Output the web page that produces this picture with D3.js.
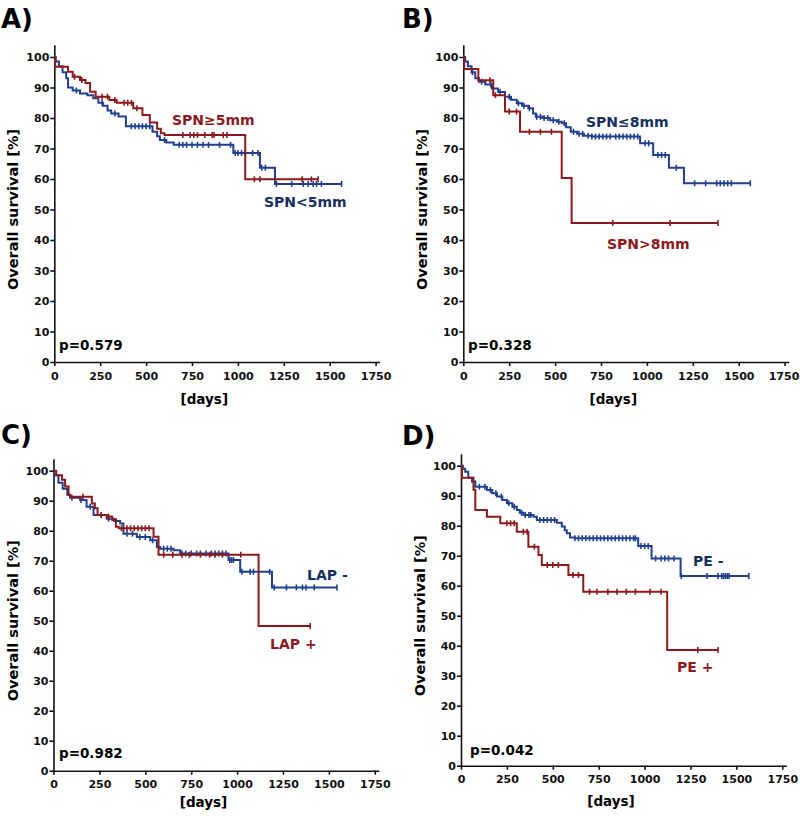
<!DOCTYPE html>
<html><head><meta charset="utf-8">
<script src="https://cdn.jsdelivr.net/npm/d3@7"></script>
<style>
body{margin:0;background:#fff}
svg text{font-family:"DejaVu Sans",sans-serif;font-weight:bold}
</style>
</head><body>
<svg id="chart" width="800" height="817"></svg>
<script>
// ---------- DATA ----------
const xTicks = [0, 250, 500, 750, 1000, 1250, 1500, 1750];
const yTicks = [0, 10, 20, 30, 40, 50, 60, 70, 80, 90, 100];
const panelLetters = ["A)", "B)", "C)", "D)"];
const pValues = ["p=0.579", "p=0.328", "p=0.982", "p=0.042"];
const redLabels = ["SPN\u22655mm", "SPN>8mm", "LAP +", "PE +"];
const blueLabels = ["SPN<5mm", "SPN\u22648mm", "LAP -", "PE -"];
const yAxisTitle = "Overall survival [%]";
const xAxisTitle = "[days]";

// Panel A
const aBlueSteps = [[0,100],[8,98.5],[25,97],[45,95],[65,93],[75,90],[100,89],[140,88],[180,87.5],[212,86.5],[240,85],[265,84],[290,82.5],[310,81.5],[350,80.5],[390,77.3],[535,75.5],[560,74],[575,72.8],[610,72],[650,71.2],[975,68.5],[1120,63.7],[1202,58.4]];
const aBlueEnd = 1565;
const aBlueCensor = [120,260,330,420,440,460,480,500,520,600,680,700,720,750,780,810,840,900,960,985,1000,1020,1040,1080,1110,1130,1150,1210,1293,1356,1383,1410,1428,1455,1565];
const aRedSteps = [[0,100],[5,96.8],[75,95.2],[100,93.5],[140,92.5],[170,91.5],[195,88.6],[225,87],[300,85.9],[340,85],[430,83.2],[480,81],[520,78.5],[560,76.5],[580,75],[600,74.4],[1040,59.9]];
const aRedEnd = 1437;
const aRedCensor = [110,150,260,290,330,380,400,420,450,700,740,760,780,820,860,870,920,940,1090,1120,1350,1400,1437];

// Panel B
const bBlueSteps = [[0,100],[10,98.5],[25,97],[45,95],[65,93],[85,91.9],[120,91],[155,89.7],[190,88.5],[227,87],[260,86],[291,84.8],[320,84],[354,83.2],[380,81.5],[395,80.4],[430,80],[473,79.3],[510,78.8],[536,78.3],[560,77],[585,75.5],[620,74.8],[657,74.2],[700,73.9],[963,71.7],[1034,67.9],[1120,63.7],[1202,58.6]];
const bBlueEnd = 1563;
const bBlueCensor = [50,100,150,200,250,300,330,360,400,420,440,460,490,520,550,600,630,650,680,700,720,740,760,780,800,830,850,870,890,910,930,950,990,1010,1060,1080,1100,1160,1260,1320,1380,1400,1420,1440,1460,1563];
const bRedSteps = [[0,100],[5,96.1],[82,92.4],[163,87.5],[227,82.1],[309,75.5],[536,60.3],[590,45.6]];
const bRedEnd = 1387;
const bRedCensor = [145,175,250,290,360,420,480,814,1126,1387];

// Panel C
const cBlueSteps = [[0,100],[5,98.5],[27,96],[50,94],[75,92],[91,91],[145,90.2],[180,88],[218,85.2],[290,84],[330,83.2],[363,82.4],[381,79],[454,77.9],[527,76.8],[563,74.6],[581,74],[654,73.5],[690,72.4],[953,70.2],[1017,66.3],[1190,61.1]];
const cBlueEnd = 1544;
const cBlueCensor = [100,150,200,260,300,340,400,430,470,500,540,600,620,640,700,720,750,780,800,830,860,880,900,920,940,960,970,980,1026,1071,1089,1177,1202,1269,1323,1356,1375,1420,1544];
const cRedSteps = [[0,100],[15,98.5],[46,97],[63,94.7],[82,92],[90,91.3],[209,89.1],[225,87.5],[240,85.2],[290,84.7],[320,83.6],[340,81.3],[355,80.8],[545,78],[572,72],[1117,48.2]];
const cRedEnd = 1398;
const cRedCensor = [160,260,300,370,400,420,440,460,480,500,520,600,650,700,740,800,850,880,920,1020,1398];

// Panel D
const dBlueSteps = [[0,100],[10,99],[23,98],[40,96],[60,94.7],[78,93],[141,91.9],[170,90.8],[196,89.7],[225,88.6],[250,87.5],[280,86.3],[304,85.2],[320,84.3],[340,83.6],[395,83],[413,81.9],[522,81],[549,79.7],[565,78.5],[576,77.5],[594,76.1],[620,75.8],[965,73.2],[1038,69.1],[1196,63.2]];
const dBlueEnd = 1568;
const dBlueCensor = [100,130,160,190,220,260,290,330,350,370,380,430,450,470,490,510,620,640,660,680,700,720,740,760,780,800,820,840,860,880,900,920,940,950,980,1000,1020,1060,1090,1110,1130,1160,1200,1340,1400,1420,1430,1440,1450,1460,1568];
const dRedSteps = [[0,100],[5,96],[68,92],[78,85.2],[141,83],[214,80.8],[304,78],[367,73],[422,70.2],[440,66.9],[585,63.6],[666,58],[1123,38.6]];
const dRedEnd = 1400;
const dRedCensor = [250,270,290,340,360,400,470,500,530,610,640,700,740,800,850,900,950,1030,1090,1290,1400];

const blueSeries = [
  {steps:aBlueSteps,end:aBlueEnd,censor:aBlueCensor},
  {steps:bBlueSteps,end:bBlueEnd,censor:bBlueCensor},
  {steps:cBlueSteps,end:cBlueEnd,censor:cBlueCensor},
  {steps:dBlueSteps,end:dBlueEnd,censor:dBlueCensor}];
const redSeries = [
  {steps:aRedSteps,end:aRedEnd,censor:aRedCensor},
  {steps:bRedSteps,end:bRedEnd,censor:bRedCensor},
  {steps:cRedSteps,end:cRedEnd,censor:cRedCensor},
  {steps:dRedSteps,end:dRedEnd,censor:dRedCensor}];

// ---------- LAYOUT ----------
const panels = [
  {ox:54.3, oy:362, top:57, letter:[1,27.5], pv:[59,350], red:[172,125], blue:[264,207], xt:42},
  {ox:463.3, oy:362, top:57, letter:[402,27.5], pv:[468,350], red:[607,248.5], blue:[586,127], xt:42},
  {ox:53.5, oy:770.7, top:470.7, letter:[1,444], pv:[59,758], red:[270,649], blue:[307,580], xt:36},
  {ox:461, oy:765.7, top:465.7, letter:[402,444.5], pv:[470,755], red:[677,671.7], blue:[693,565.7], xt:40}
];
const pxPerDay = 0.1836;
const RED = "#8c1a1c", BLUE = "#213f8e", BLUE_TXT = "#172f60", RED_TXT = "#8c1a1c";

const svg = d3.select("#chart");

function valueAt(steps, t){
  let v = steps[0][1];
  for (const s of steps){ if (s[0] <= t) v = s[1]; else break; }
  return v;
}

panels.forEach((p, i) => {
  const g = svg.append("g");
  const xMax = 1772;
  const x = d3.scaleLinear().domain([0, xMax]).range([p.ox, p.ox + xMax*pxPerDay]);
  const yTopVal = 104;
  const k = (p.oy - p.top)/100;
  const y = d3.scaleLinear().domain([0, yTopVal]).range([p.oy, p.oy - yTopVal*k]);

  // axes
  const xa = g.append("g").attr("transform", `translate(0,${p.oy})`)
    .call(d3.axisBottom(x).tickValues(xTicks).tickFormat(d3.format("d")).tickSize(4).tickSizeOuter(0).tickPadding(6));
  const ya = g.append("g").attr("transform", `translate(${p.ox},0)`)
    .call(d3.axisLeft(y).tickValues(yTicks).tickFormat(d3.format("d")).tickSize(4).tickSizeOuter(0).tickPadding(1));
  [xa, ya].forEach(a => {
    a.selectAll("path,line").attr("stroke", "#111").attr("stroke-width", 1.6);
    a.selectAll("text").attr("font-size", 11).attr("fill", "#111")
      .attr("font-family", '"DejaVu Sans",sans-serif').attr("font-weight", "bold");
  });
  // keep the last x tick label inside the picture
  xa.selectAll(".tick text").filter(d => d === 1750).attr("dx", function(){
    const b = this.getBBox(); const right = p.ox + 1750*pxPerDay + b.width/2;
    return right > 799 ? (799 - right) : 0;
  });

  // curves
  const line = d3.line().x(d => x(d[0])).y(d => y(d[1])).curve(d3.curveStepAfter);
  [[blueSeries[i], BLUE], [redSeries[i], RED]].forEach(([s, col]) => {
    const pts = s.steps.concat([[s.end, s.steps[s.steps.length-1][1]]]);
    g.append("path").attr("d", line(pts)).attr("fill", "none")
      .attr("stroke", col).attr("stroke-width", 2);
    g.selectAll(null).data(s.censor).enter().append("line")
      .attr("x1", d => x(d)).attr("x2", d => x(d))
      .attr("y1", d => y(valueAt(s.steps, d)) - 3)
      .attr("y2", d => y(valueAt(s.steps, d)) + 3)
      .attr("stroke", col).attr("stroke-width", 1.6);
  });

  // texts
  g.append("text").attr("x", p.letter[0]).attr("y", p.letter[1])
    .attr("font-size", 26).attr("fill", "#000").text(panelLetters[i]);
  g.append("text").attr("x", p.pv[0]).attr("y", p.pv[1])
    .attr("font-size", 13.5).attr("fill", "#000").text(pValues[i]);
  g.append("text").attr("x", p.red[0]).attr("y", p.red[1])
    .attr("font-size", 14).attr("fill", RED_TXT).text(redLabels[i]);
  g.append("text").attr("x", p.blue[0]).attr("y", p.blue[1])
    .attr("font-size", 14).attr("fill", BLUE_TXT).text(blueLabels[i]);
  g.append("text").attr("x", p.ox + 150).attr("y", p.oy + p.xt)
    .attr("text-anchor", "middle").attr("font-size", 13.5).attr("fill", "#000").text(xAxisTitle);
  const cy = (p.oy + p.top)/2;
  g.append("text").attr("transform", `translate(${p.ox - 36},${cy}) rotate(-90)`)
    .attr("text-anchor", "middle").attr("font-size", 14.5).attr("fill", "#000").text(yAxisTitle);
});
</script>
</body></html>
